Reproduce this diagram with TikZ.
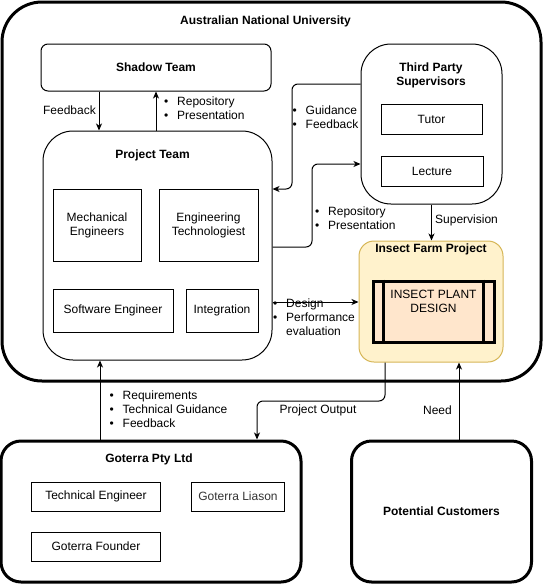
\documentclass[tikz,border=0pt]{standalone}
\usepackage{fontspec}
\setmainfont{Liberation Sans}
\usetikzlibrary{arrows.meta}
\definecolor{farmfill}{HTML}{FFF2CC}
\definecolor{farmdraw}{HTML}{D6B656}
\definecolor{plantfill}{HTML}{FFE6CC}
\definecolor{liasontext}{HTML}{333333}
\newcommand{\bitem}{\makebox[13pt][l]{•}}

\begin{document}
\begin{tikzpicture}[
  x=1pt, y=-1pt,
  > = {Stealth[length=7pt,width=6pt,inset=2pt]},
  every node/.style = {font=\fontsize{12}{14}\selectfont},
  group/.style = {draw, line width=1pt, rounded corners=#1, inner sep=0pt},
  thickgroup/.style = {group=#1, line width=3pt},
  member/.style = {draw, line width=1pt, inner sep=0pt, align=center},
  title/.style = {font=\fontsize{12}{14}\selectfont\bfseries, align=center},
  note/.style = {align=left, inner sep=0pt},
  link/.style = {->, line width=1pt}
  ]
	\useasboundingbox (0,0) rectangle (543,584);

	\node[thickgroup=40pt, minimum width=539pt, minimum height=379pt] (anu) at (271.5,191.5) {};
	\node[title] (anu-title) at (265.5,21) {Australian National University};

	\node[group=7pt, minimum width=230pt, minimum height=47pt, title] (shadow) at (156,67.5) {Shadow Team};

	\node[group=30pt, minimum width=229pt, minimum height=229pt] (team) at (157.5,245.5) {};
	\node[title] (team-title) at (152.5,155) {Project Team};
	\node[member, minimum width=88pt, minimum height=72pt] (mech) at (97,225) {Mechanical\\Engineers};
	\node[member, minimum width=99pt, minimum height=72pt] (engtech) at (208.5,225) {Engineering\\Technologiest};
	\node[member, minimum width=120pt, minimum height=43pt] (software) at (113,310.5) {Software Engineer};
	\node[member, minimum width=72pt, minimum height=43pt] (integ) at (222,310.5) {Integration};

	\node[group=30pt, minimum width=141pt, minimum height=160pt] (tps) at (431.5,124) {};
	\node[title] (tps-title) at (431,75.5) {Third Party\\Supervisors};
	\node[member, minimum width=101pt, minimum height=30pt] (tutor) at (431.5,119) {Tutor};
	\node[member, minimum width=102pt, minimum height=30pt] (lecture) at (432,171) {Lecture};

	\node[group=15pt, draw=farmdraw, fill=farmfill, minimum width=144pt, minimum height=121pt] (farm) at (431,301.5) {};
	\node[title] (farm-title) at (431,249) {Insect Farm Project};
	\node[draw, line width=3pt, fill=plantfill, inner sep=0pt, minimum width=121pt, minimum height=61pt] (plant) at (433.5,311.5) {};
	\draw[line width=3pt] ([xshift=12pt]plant.north west) -- ([xshift=12pt]plant.south west);
	\draw[line width=3pt] ([xshift=-12pt]plant.north east) -- ([xshift=-12pt]plant.south east);
	\node[align=center, anchor=north, inner sep=0pt] (plant-text) at ([yshift=-10pt]plant.north) {INSECT PLANT\\DESIGN};

	\node[thickgroup=20pt, minimum width=300pt, minimum height=141pt] (goterra) at (151,511.5) {};
	\node[title] (goterra-title) at (149,459) {Goterra Pty Ltd};
	\node[member, minimum width=128.5pt, minimum height=29pt] (techeng) at (96,496.5) {Technical Engineer};
	\node[member, minimum width=92.5pt, minimum height=29pt, text=liasontext] (liason) at (238,496.5) {Goterra Liason};
	\node[member, minimum width=128.5pt, minimum height=29pt] (founder) at (96,546.5) {Goterra Founder};

	\node[thickgroup=20pt, minimum width=180pt, minimum height=141pt, title] (customers) at (441.5,511.5) {Potential Customers};

	\draw[link] ([xshift=-57pt]shadow.south) -- ([xshift=-57pt]shadow.south |- team.north);
	\node[anchor=east, inner sep=0pt] (feedback) at (96,110) {Feedback};
	\draw[link] (shadow.south |- team.north) -- (shadow.south);
	\node[note, anchor=west] (shadow-notes) at (164,108) {\bitem Repository\\\bitem Presentation};

	\draw[link, rounded corners=6pt] ([yshift=40pt]tps.west) -| (292,150) |- ([yshift=56.5pt]team.east);
	\node[note, anchor=west] (guidance) at (292.5,117) {\bitem Guidance\\\bitem Feedback};
	\draw[link, rounded corners=6pt] ([yshift=-1.5pt]team.east) -| (312,200) |- ([yshift=-40pt]tps.west);
	\node[note, anchor=west] (team-notes) at (315,218) {\bitem Repository\\\bitem Presentation};

	\draw[link] (tps.south) -- (tps.south |- farm.north);
	\node[anchor=west, inner sep=0pt] (supervision) at (435,220) {Supervision};

	\draw[link] ([yshift=-56.5pt]team.east) -- ([yshift=-56.5pt]team.east -| farm.west);
	\node[note, anchor=west] (design) at (273,317.5) {\bitem Design\\\bitem Performance\\\makebox[13pt]{}evaluation};

	\draw[link] ([xshift=-51pt]goterra.north) -- ([xshift=-51pt]goterra.north |- team.south);
	\node[note, anchor=west] (requirements) at (109.5,409) {\bitem Requirements\\\bitem Technical Guidance\\\bitem Feedback};

	\draw[link, rounded corners=6pt] ([xshift=-46pt]farm.south) |- (300,401) -| ([xshift=106pt]goterra.north);
	\node (output) at (318,410) {Project Output};

	\draw[link] ([xshift=17.5pt]customers.north) -- ([xshift=17.5pt]customers.north |- farm.south);
	\node[anchor=east, inner sep=0pt] (need) at (452,410) {Need};

\end{tikzpicture}
\end{document}
